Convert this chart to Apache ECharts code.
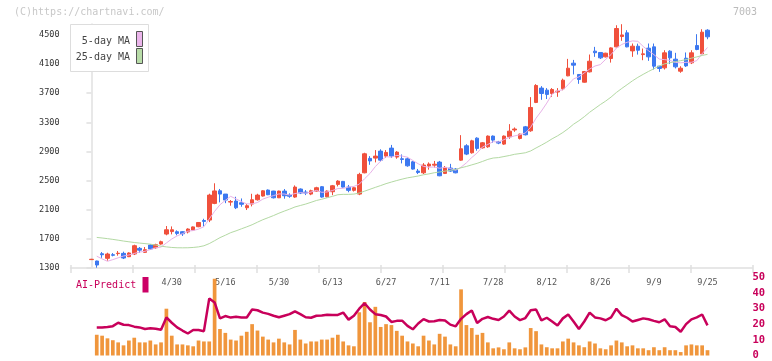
<!DOCTYPE html>
<html>
<head>
<meta charset="utf-8">
<script src="https://cdn.jsdelivr.net/npm/echarts@6/dist/echarts.min.js"></script>
<style>html,body{margin:0;padding:0;background:#fff;}#c{width:772px;height:361px;}</style>
</head>
<body>
<div id="c"></div>
<script>
const dates = ['4/8','4/9','4/10','4/11','4/14','4/15','4/16','4/17','4/18','4/21','4/22','4/23','4/24','4/25','4/28','4/30','5/1','5/2','5/7','5/8','5/9','5/12','5/13','5/14','5/15','5/16','5/19','5/20','5/21','5/22','5/23','5/26','5/27','5/28','5/29','5/30','6/2','6/3','6/4','6/5','6/6','6/9','6/10','6/11','6/12','6/13','6/16','6/17','6/18','6/19','6/20','6/23','6/24','6/25','6/26','6/27','6/30','7/1','7/2','7/3','7/4','7/7','7/8','7/9','7/10','7/11','7/14','7/15','7/16','7/17','7/18','7/22','7/23','7/24','7/25','7/28','7/29','7/30','7/31','8/1','8/4','8/5','8/6','8/7','8/8','8/12','8/13','8/14','8/15','8/18','8/19','8/20','8/21','8/22','8/25','8/26','8/27','8/28','8/29','9/1','9/2','9/3','9/4','9/5','9/8','9/9','9/10','9/11','9/12','9/16','9/17','9/18','9/19','9/22','9/24','9/25'];
const tickLabels = ['4/30','5/16','5/30','6/13','6/27','7/11','7/28','8/12','8/26','9/9','9/25'];
const priceTicks = [1300,1700,2100,2500,2900,3300,3700,4100,4500];

const opens = [1415,1396,1496,1433,1482,1498,1501,1455,1492,1570,
1515,1615,1578,1629,1766,1800,1798,1798,1795,1821,
1867,1952,1958,2187,2360,2315,2205,2219,2196,2127,
2178,2237,2288,2370,2356,2264,2356,2301,2274,2384,
2342,2315,2356,2416,2278,2347,2448,2489,2411,2366,
2315,2607,2805,2809,2905,2836,2946,2823,2800,2799,
2758,2631,2607,2700,2712,2754,2599,2672,2658,2781,
2978,2882,3083,2950,2964,3111,3033,3001,3101,3195,
3079,3238,3184,3573,3770,3742,3696,3716,3761,3938,
4112,3957,3851,3993,4277,4259,4199,4176,4336,4478,
4529,4281,4345,4230,4318,4336,4071,4048,4277,4167,
4002,4180,4117,4354,4240,4565];
const closes = [1420,1341,1482,1492,1475,1503,1437,1506,1606,1545,
1551,1561,1620,1661,1825,1825,1775,1770,1835,1864,
1925,1940,2301,2358,2315,2233,2212,2127,2175,2155,
2237,2301,2360,2306,2264,2356,2292,2285,2411,2329,
2329,2360,2402,2274,2356,2429,2493,2411,2366,2402,
2585,2868,2770,2836,2781,2887,2836,2891,2790,2703,
2658,2612,2713,2727,2725,2566,2681,2631,2607,2937,
2864,3046,2942,3019,3111,3056,3015,3111,3179,3208,
3138,3129,3504,3806,3696,3683,3751,3728,3879,4043,
4085,3888,3998,4139,4256,4185,4249,4322,4588,4500,
4336,4345,4290,4240,4199,4071,4039,4254,4185,4062,
4043,4075,4254,4300,4538,4474];
const lows = [1410,1304,1440,1400,1460,1469,1423,1450,1478,1510,
1506,1547,1565,1620,1749,1762,1749,1740,1775,1815,
1860,1870,1930,2176,2201,2190,2155,2109,2141,2096,
2146,2225,2280,2300,2255,2260,2251,2264,2264,2315,
2301,2300,2350,2265,2268,2300,2420,2405,2340,2350,
2300,2600,2717,2750,2760,2810,2810,2800,2736,2690,
2650,2590,2590,2650,2680,2560,2590,2620,2600,2772,
2850,2870,2910,2940,2950,3019,3000,2990,3074,3170,
3065,3120,3170,3564,3609,3620,3650,3650,3740,3933,
3957,3829,3845,3985,4199,4170,4190,4120,4330,4419,
4330,4199,4230,4153,4144,4025,3993,4025,4100,4040,
3980,4060,4100,4290,4222,4441];
const highs = [1425,1400,1519,1510,1505,1533,1524,1515,1620,1588,
1588,1625,1633,1675,1876,1871,1817,1805,1845,1870,
1930,1976,2320,2463,2385,2315,2233,2278,2255,2178,
2319,2319,2368,2378,2360,2362,2384,2325,2434,2393,
2370,2375,2415,2425,2365,2440,2505,2495,2440,2410,
2607,2882,2836,2919,2930,2919,2990,2905,2859,2817,
2770,2660,2740,2750,2770,2770,2700,2730,2670,3124,
3000,3060,3095,3030,3120,3120,3045,3120,3275,3230,
3145,3250,3646,3824,3797,3770,3770,3770,3900,4171,
4157,3960,4005,4231,4336,4265,4255,4330,4633,4647,
4565,4382,4380,4313,4382,4382,4075,4290,4290,4254,
4070,4259,4290,4510,4578,4578];
const ma5 = [null,1462,1425,1392,1415,1440,1465,1478,1500,1519,
1529,1554,1577,1588,1644,1698,1741,1771,1806,1814,
1834,1867,1973,2078,2168,2229,2284,2249,2212,2180,
2181,2199,2246,2272,2294,2317,2316,2301,2322,2335,
2329,2343,2366,2339,2344,2364,2391,2393,2411,2420,
2451,2526,2598,2692,2768,2828,2822,2846,2837,2821,
2776,2731,2695,2683,2687,2669,2682,2666,2642,2684,
2744,2817,2879,2962,2996,3035,3029,3062,3094,3114,
3130,3153,3232,3357,3455,3564,3688,3733,3747,3817,
3897,3925,3979,4031,4073,4093,4165,4230,4320,4369,
4399,4418,4412,4342,4282,4229,4168,4161,4150,4122,
4117,4124,4124,4147,4242,4328];
const ma25 = [null,1720,1712,1703,1693,1682,1670,1660,1650,1642,
1635,1627,1615,1600,1590,1582,1578,1577,1578,1582,
1590,1605,1635,1675,1717,1750,1785,1810,1838,1865,
1894,1929,1963,1991,2020,2052,2081,2108,2138,2158,
2178,2202,2227,2244,2264,2284,2306,2311,2311,2315,
2329,2355,2381,2407,2432,2458,2480,2501,2520,2538,
2550,2563,2580,2592,2608,2618,2630,2640,2653,2676,
2694,2716,2737,2763,2791,2810,2816,2830,2844,2861,
2871,2882,2907,2948,2987,3028,3074,3114,3160,3213,
3274,3322,3377,3438,3491,3544,3592,3647,3710,3765,
3817,3870,3917,3959,3999,4036,4073,4103,4118,4133,
4147,4160,4181,4198,4218,4233];
const aiBars = [null,13.3,12.7,11,9.8,8.4,6.5,9.6,11.4,8.4,8.4,
9.6,7.1,8.4,30,12.7,7.1,7.1,6.5,5.9,9.6,
9,9,49.2,17,14.5,10.2,9.6,12.7,15.2,20.1,
16,12.1,10.2,8.4,10.8,8.4,7.1,16.4,10.2,7.7,
9,9,10.2,10.2,11.4,13.3,9,6.5,5.9,27.7,
34.3,21.3,31.2,18.3,20.1,19.5,15.8,12.7,9,7.7,
5.9,12.7,9.6,7.1,13.9,12.1,7.1,5.9,42.4,19.5,
17.6,13.3,14.5,8.4,4.6,5.2,4,8.4,4.6,4,
5.2,17.6,15.6,7.1,5.3,4.6,4.6,9,10.8,8.4,
6.5,5.3,9,7.7,4.6,4,6.5,9.6,8.4,5.9,
6.5,4.6,4.6,3.4,5.3,3.4,5.3,3.4,3.4,2.2,
6.5,7.1,6.5,6.5,3.4];
const aiLine = [null,18,18,18.3,18.8,21,19.7,19.5,18.5,18,17,
17.5,17.2,16.5,24.4,21,18,16,14.1,16.4,16.4,
15.6,36.6,34,23.8,25.3,24.3,24.8,24.4,24.4,29.5,
29,27.5,26.7,25.5,24.5,25.5,26.5,28.3,26.5,24.5,
24.2,25.5,25.7,26.1,26,26,27.5,23,25.5,30,
33.5,29.5,26.5,26,25,21.5,22.2,22.3,19,16.8,
20.5,23.3,21.8,22,22.8,22.5,19.8,18.7,23.5,26.5,
28.8,20.8,23.5,24.7,23.5,22.8,25,28.8,25,22.7,
24,29,29.5,22.5,24.2,21.8,19.3,23.8,26.3,21.8,
17,21.8,27.5,24.4,23.8,22.6,24.4,30,25.9,24.2,
21.8,22.8,23.8,23.2,22.2,21.3,23.2,18.7,18.3,15.2,
20.1,23.2,24.4,26.3,19.3];

const FONT = "'DejaVu Sans Mono', monospace";
const X_MIN = -3.9, X_MAX = 123.4;
const UP = '#f0503c', DOWN = '#3c78f0';
const pair = arr => arr.map((v, i) => [i, v]).filter(p => p[1] != null);

const chart = echarts.init(document.getElementById('c'), null, {renderer: 'canvas'});
chart.setOption({
  animation: false,
  backgroundColor: '#fff',
  grid: [
    {left: 70.5, width: 682, top: 24, height: 244},
    {left: 70.5, width: 682, top: 277.5, height: 80.5}
  ],
  xAxis: [
    {gridIndex: 0, type: 'value', position: 'bottom', min: X_MIN, max: X_MAX,
     axisLine: {show: true, lineStyle: {color: '#e0e0e0', width: 1.5}},
     axisTick: {show: false}, splitLine: {show: false},
     axisLabel: {customValues: tickLabels.map(d => dates.indexOf(d)),
       formatter: v => dates[Math.round(v)] || '',
       color: '#555', fontSize: 8.5, fontFamily: FONT, margin: 10}},
    {gridIndex: 0, type: 'value', position: 'bottom', min: 0, max: 11, interval: 1, offset: -3,
     axisLine: {show: false}, splitLine: {show: false}, axisLabel: {show: false},
     axisTick: {show: true, length: 8, lineStyle: {color: '#e0e0e0', width: 1.5}}},
    {gridIndex: 1, type: 'value', min: X_MIN, max: X_MAX, show: false}
  ],
  yAxis: [
    {gridIndex: 0, type: 'value', min: 1300, max: 4650,
     axisLine: {show: true, lineStyle: {color: '#e0e0e0', width: 1.5}},
     axisTick: {show: true, length: 5, customValues: priceTicks, lineStyle: {color: '#e0e0e0', width: 1.5}},
     axisLabel: {customValues: priceTicks, formatter: v => String(v), color: '#333', fontSize: 8.5, fontFamily: FONT, margin: 11},
     splitLine: {show: false}},
    {gridIndex: 1, type: 'value', min: 0, max: 50, interval: 10, position: 'right',
     axisLine: {show: false}, axisTick: {show: false}, splitLine: {show: false},
     axisLabel: {color: '#c8005a', fontSize: 10.5, fontWeight: 'bold', fontFamily: FONT, margin: 0}}
  ],
  series: [
    {type: 'candlestick', xAxisIndex: 0, yAxisIndex: 0, barWidth: 4,
     data: dates.map((d, i) => [i, opens[i], closes[i], lows[i], highs[i]]),
     itemStyle: {color: UP, color0: DOWN, borderColor: UP, borderColor0: DOWN, borderWidth: 1}},
    {type: 'line', xAxisIndex: 0, yAxisIndex: 0, data: pair(ma5), showSymbol: false, z: 3,
     lineStyle: {color: '#e8b2e8', width: 1}},
    {type: 'line', xAxisIndex: 0, yAxisIndex: 0, data: pair(ma25), showSymbol: false, z: 3,
     lineStyle: {color: '#b3d9a3', width: 1}},
    {type: 'bar', xAxisIndex: 2, yAxisIndex: 1, data: pair(aiBars), barWidth: 3.7,
     itemStyle: {color: '#f0963c'}},
    {type: 'line', xAxisIndex: 2, yAxisIndex: 1, data: pair(aiLine), showSymbol: false, z: 4,
     lineStyle: {color: '#c8005a', width: 2.5}}
  ],
  graphic: [
    {type: 'text', left: 14, top: 7, style: {text: '(C)https://chartnavi.com/', fill: '#c8c8c8', font: '10px ' + FONT}},
    {type: 'text', right: 15, top: 7, style: {text: '7003', fill: '#bbbbbb', font: '10px ' + FONT}},
    {type: 'rect', shape: {x: 70.5, y: 24.5, width: 78, height: 47}, style: {fill: '#fff', stroke: '#dddddd', lineWidth: 1}, z: 10},
    {type: 'text', x: 130, y: 41.5, style: {text: '5-day MA', fill: '#444', font: '10px ' + FONT, textAlign: 'right', textVerticalAlign: 'middle'}, z: 11},
    {type: 'text', x: 130, y: 57.5, style: {text: '25-day MA', fill: '#444', font: '10px ' + FONT, textAlign: 'right', textVerticalAlign: 'middle'}, z: 11},
    {type: 'rect', shape: {x: 136.5, y: 31.5, width: 6, height: 15}, style: {fill: '#ebb5eb', stroke: '#555', lineWidth: 1}, z: 11},
    {type: 'rect', shape: {x: 136.5, y: 48.5, width: 6, height: 15}, style: {fill: '#b8dca8', stroke: '#555', lineWidth: 1}, z: 11},
    {type: 'text', x: 76, y: 285.5, style: {text: 'AI-Predict', fill: '#c8005a', font: '10px ' + FONT, textVerticalAlign: 'middle'}, z: 11},
    {type: 'rect', shape: {x: 142.5, y: 277, width: 6, height: 15.5}, style: {fill: '#cc0066'}, z: 11}
  ]
});
</script>
</body>
</html>
